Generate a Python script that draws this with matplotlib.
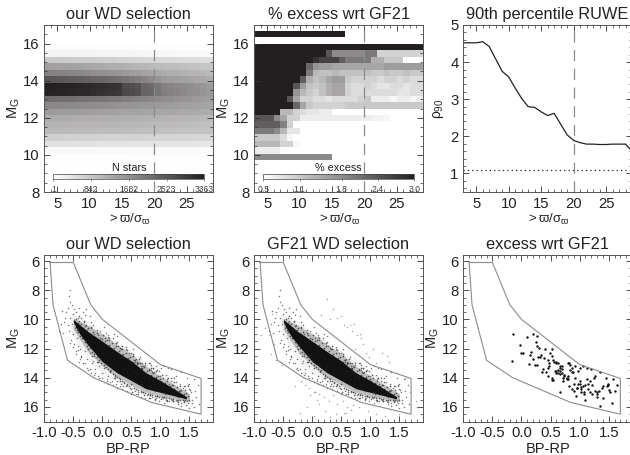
import numpy as np
import matplotlib
matplotlib.use('Agg')
import matplotlib.pyplot as plt
from matplotlib.colors import LinearSegmentedColormap, Normalize
from matplotlib.ticker import MultipleLocator

plt.rcParams['font.family'] = ['Liberation Sans', 'DejaVu Sans']
plt.rcParams['mathtext.fontset'] = 'custom'
plt.rcParams['mathtext.rm'] = 'Liberation Sans'
plt.rcParams['mathtext.it'] = 'Liberation Sans'
plt.rcParams['mathtext.fallback'] = 'stix'
plt.rcParams['axes.unicode_minus'] = False

# grid of the two maps
snr_edges = list(range(3, 30))
mg_edges = [16.7, 16.35, 16.0, 15.65, 15.3, 14.95, 14.6, 14.25, 13.9, 13.55, 13.2, 12.85, 12.5,
            12.15, 11.8, 11.45, 11.1, 10.75, 10.4, 10.05, 9.7, 9.35, 9.0, 8.65, 8.3, 8.0]

# N stars, rows top to bottom, one value per parallax S/N bin
n_stars = [
    [0] * 26,
    [0] * 26,
    [60, 60, 58, 58, 56, 55, 55, 52, 50, 50, 48, 45, 45, 42, 40, 40, 38, 36, 35, 35, 32, 32, 30, 30, 30, 30],
    [190, 185, 185, 180, 180, 175, 170, 170, 165, 160, 155, 150, 150, 145, 140, 135, 130, 125, 120, 115, 110, 105, 100, 100, 95, 90],
    [800, 800, 790, 780, 770, 760, 750, 740, 730, 710, 700, 680, 670, 660, 640, 630, 610, 600, 590, 570, 560, 550, 530, 520, 510, 500],
    [1450, 1440, 1430, 1410, 1390, 1370, 1350, 1320, 1290, 1260, 1230, 1200, 1170, 1140, 1110, 1090, 1060, 1030, 1000, 980, 960, 940, 920, 900, 880, 860],
    [1900, 1890, 1870, 1850, 1820, 1790, 1760, 1720, 1690, 1650, 1610, 1570, 1530, 1490, 1450, 1400, 1350, 1300, 1250, 1220, 1190, 1170, 1140, 1110, 1080, 1050],
    [2550, 2530, 2500, 2470, 2440, 2410, 2370, 2330, 2290, 2250, 2200, 2150, 2080, 2020, 1950, 1850, 1750, 1620, 1500, 1470, 1440, 1410, 1370, 1340, 1300, 1250],
    [3363, 3350, 3330, 3310, 3280, 3250, 3220, 3180, 3150, 3120, 3080, 3050, 2700, 2650, 2600, 2300, 2250, 2050, 1900, 1850, 1800, 1750, 1700, 1640, 1580, 1500],
    [3300, 3290, 3280, 3260, 3240, 3210, 3180, 3140, 3100, 3060, 3020, 2980, 2750, 2700, 2650, 2350, 2300, 2100, 1950, 1900, 1850, 1800, 1730, 1670, 1610, 1550],
    [2200, 2190, 2180, 2170, 2160, 2140, 2120, 2100, 2080, 2050, 2030, 2000, 1950, 1920, 1890, 1850, 1810, 1760, 1700, 1670, 1640, 1600, 1570, 1530, 1490, 1450],
    [1800, 1790, 1780, 1770, 1760, 1750, 1740, 1720, 1700, 1680, 1660, 1640, 1620, 1600, 1580, 1560, 1540, 1520, 1500, 1480, 1460, 1440, 1420, 1400, 1370, 1350],
    [1500, 1500, 1490, 1490, 1480, 1470, 1460, 1450, 1440, 1430, 1420, 1410, 1400, 1390, 1380, 1370, 1360, 1350, 1350, 1340, 1320, 1310, 1300, 1280, 1260, 1250],
    [1250, 1250, 1240, 1240, 1230, 1230, 1220, 1220, 1210, 1210, 1200, 1200, 1190, 1190, 1180, 1170, 1160, 1150, 1150, 1130, 1120, 1110, 1100, 1080, 1060, 1050],
    [1150, 1150, 1140, 1140, 1130, 1130, 1120, 1120, 1110, 1110, 1100, 1100, 1090, 1090, 1080, 1070, 1060, 1050, 1050, 1030, 1020, 1000, 990, 980, 960, 950],
    [1050, 1050, 1040, 1040, 1030, 1030, 1020, 1020, 1010, 1010, 1000, 1000, 990, 990, 980, 970, 960, 950, 950, 940, 930, 930, 920, 910, 900, 900],
    [700, 700, 700, 690, 690, 690, 680, 680, 680, 670, 670, 670, 660, 660, 660, 650, 650, 650, 650, 640, 630, 630, 620, 610, 600, 600],
    [450, 450, 450, 450, 440, 440, 440, 440, 430, 430, 430, 430, 430, 420, 420, 420, 420, 420, 420, 410, 410, 400, 400, 390, 380, 380],
    [100, 100, 100, 100, 100, 100, 100, 100, 95, 95, 95, 95, 95, 90, 90, 90, 90, 90, 90, 85, 85, 85, 80, 80, 80, 80],
    [40] * 26,
    [30] * 26,
    [20] * 26,
    [10] * 26,
    [5] * 26,
    [0] * 26,
]

# % excess on the same grid, 0 = blank
pct_excess = [
    [3.0] * 14 + [0] * 12,
    [0] * 26,
    [3.0] * 26,
    [3.0] * 11 + [2.4, 1.8, 1.8, 1.8, 1.8, 1.8, 2.0, 2.0, 1.0, 1.0, 1.0, 1.0, 1.0, 1.0, 1.0],
    [3.0] * 9 + [2.8, 2.6, 2.6, 2.6, 2.3, 2.0, 2.0, 2.0, 2.0, 1.4, 1.4, 1.1, 1.1, 1.1, 0.5, 0.5, 0.5],
    [3.0] * 8 + [2.2, 1.7, 1.6, 1.6, 1.5, 1.5, 1.5, 1.5, 1.5, 1.5, 1.5, 1.5, 1.6, 1.6, 1.6, 1.6, 1.6, 1.6],
    [3.0] * 8 + [2.0, 1.3, 1.2, 1.2, 1.3, 1.2, 1.2, 1.2, 1.2, 1.2, 1.1, 1.1, 1.2, 1.1, 1.1, 1.2, 1.1, 1.1],
    [3.0] * 7 + [2.3, 1.4, 1.2, 1.3, 1.5, 1.6, 1.6, 1.1, 1.0, 1.0, 1.0, 1.0, 0.9, 1.0, 1.0, 0.9, 1.0, 0.9, 0.9],
    [3.0] * 6 + [2.4, 1.6, 1.2, 1.1, 1.2, 1.4, 1.5, 1.5, 1.0, 0.9, 0.9, 1.0, 0.9, 0.8, 0.8, 0.9, 0.9, 0.8, 0.9, 0.9],
    [3.0] * 6 + [1.7, 1.3, 1.1, 1.0, 1.2, 1.4, 1.5, 1.5, 1.0, 0.9, 0.9, 0.9, 0.9, 0.9, 0.9, 0.9, 0.8, 0.8, 0.9, 0.9],
    [3.0] * 5 + [2.4, 1.5, 1.0, 1.0, 0.9, 0.9, 0.8, 0.9, 0.9, 0.9, 0.9, 1.0, 1.1, 0.7, 0.7, 0.7, 0.6, 0.7, 0.7, 0.6, 0.7],
    [3.0] * 6 + [2.2, 1.5, 1.1, 1.0, 1.0, 1.0, 1.0, 1.0, 1.1, 1.1, 1.1, 1.1, 1.1, 1.1, 1.1, 1.1, 1.1, 1.1, 1.1, 1.1],
    [3.0] * 4 + [1.3, 1.3, 1.0, 0.9, 0.8, 0.8, 0.7, 0.7, 0] + [0] * 13,
    [2.4, 2.4, 2.4, 1.8, 1.5, 1.0, 1.0, 0.7, 0.7, 0.7, 0.7, 0.7, 0.7, 0.7, 0.7, 0.7, 0.7, 0.7, 0.65, 0.65, 0.6, 0] + [0] * 4,
    [2.3, 2.3, 2.3, 2.3, 1.9, 1.0] + [0] * 20,
    [2.0, 2.0, 2.0, 1.8, 1.3, 0.8, 0.8] + [0] * 19,
    [1.1, 1.1, 1.1, 1.1, 0.9, 0.6] + [0] * 20,
    [1.3, 1.3, 1.3, 1.3, 1.0, 1.0, 0.6] + [0] * 19,
    [0.7, 0.7, 0.7, 0.7] + [0] * 22,
    [1.8] * 12 + [0] * 14,
    [0] * 26,
    [0] * 26,
    [0] * 26,
    [0] * 26,
    [0] * 26,
]

n_stars_ticks = [1, 842, 1682, 2523, 3363]
pct_ticks = [0.5, 1.1, 1.8, 2.4, 3.0]

# 90th percentile RUWE
snr = [3, 4, 5, 6, 7, 8, 9, 10, 11, 12, 13, 14, 15, 16, 17, 18, 19, 20, 21, 22, 23, 24, 25, 26, 27, 28, 29]
rho90 = [4.52, 4.52, 4.52, 4.55, 4.42, 4.08, 3.75, 3.6, 3.3, 3.02, 2.8, 2.78, 2.66, 2.56, 2.62, 2.33, 2.04,
         1.89, 1.83, 1.79, 1.79, 1.78, 1.78, 1.79, 1.79, 1.79, 1.6]
rho_ref = 1.09

# selection polygon in the CMD
poly_c = [-0.9, -0.5, -0.2, 0.0, 1.0, 1.7, 1.7, 0.85, -0.15, -0.6, -0.85, -0.9]
poly_m = [6.1, 6.1, 9.0, 10.0, 13.1, 14.05, 16.5, 15.7, 14.0, 12.8, 9.0, 6.1]

# dense WD sequence, read as envelopes since single stars cannot be told apart there
core_c = [-0.5, -0.38, -0.26, 0.0, 0.25, 0.5, 0.75, 1.0, 1.25, 1.45]
core_hi = [10.0, 10.4, 10.8, 11.5, 12.2, 12.85, 13.65, 14.2, 14.8, 15.3]
core_lo = [10.2, 11.05, 11.7, 12.9, 13.65, 14.2, 14.75, 15.0, 15.25, 15.45]
mid_c = [-0.5, -0.25, 0.0, 0.25, 0.5, 0.75, 1.0, 1.25, 1.5]
mid_hi = [9.9, 10.4, 11.0, 11.7, 12.4, 13.2, 13.9, 14.5, 15.1]
mid_lo = [10.7, 12.2, 13.2, 13.95, 14.5, 15.0, 15.3, 15.45, 15.6]
halo_c = [-0.55, -0.25, 0.0, 0.25, 0.5, 0.75, 1.0, 1.25, 1.5]
halo_hi = [9.6, 10.1, 10.9, 11.5, 12.2, 12.9, 13.6, 14.3, 15.0]
halo_lo = [10.8, 12.8, 13.7, 14.3, 14.8, 15.2, 15.5, 15.6, 15.7]

# excess stars, BP-RP and MG
excess_c = [-0.14, -0.16, -0.02, 0.03, 0.09, 0.0, 0.2, 0.26, 0.25, 0.27, 0.3, 0.41, 0.52, 0.49, 0.17, 0.14,
            0.13, 0.2, 0.23, 0.27, 0.34, 0.39, 0.37, 0.43, 0.46, 0.48, 0.48, 0.52, 0.55, 0.56, 0.6, 0.62, 0.6,
            0.63, 0.66, 0.66, 0.66, 0.7, 0.55, 0.59, 0.63, 0.66, 0.7, 0.73, 0.72, 0.78, 0.78, 0.84, 0.86, 0.8,
            0.84, 0.82, 0.87, 0.89, 0.92, 0.98, 1.01, 1.06, 1.13, 1.19, 1.35, 0.52, 0.66, 0.8, 0.82, 0.86, 0.92,
            0.96, 0.95, 0.98, 1.0, 1.03, 1.03, 1.06, 1.03, 1.07, 1.07, 1.15, 1.18, 1.24, 1.26, 1.29, 1.33, 1.38,
            1.41, 1.49, 1.58, 1.64, 1.47, 1.51, 1.45, 1.48, 1.18, 1.21, 1.26, 1.29, 1.35, 1.55, 1.52, 1.15, 1.09,
            1.01, 0.9, 0.8, 0.73, 0.69, 0.57, 0.53, 0.46, 0.6, 0.32, 1.12, 1.22, 0.94, 0.28, 1.4, 1.6, 0.45, 0.72,
            1.1, 1.3, 0.9, 0.35]
excess_m = [10.97, 12.82, 11.77, 12.3, 11.2, 12.3, 11.02, 11.16, 11.57, 11.84, 11.97, 12.0, 12.02, 12.29, 12.25,
            12.41, 13.07, 12.7, 13.1, 13.16, 12.41, 12.64, 13.38, 13.59, 12.75, 13.02, 13.2, 12.52, 12.75, 12.93,
            12.95, 13.0, 13.66, 13.45, 13.3, 13.56, 13.2, 13.2, 14.16, 13.55, 13.7, 13.77, 13.65, 13.86, 14.0,
            14.1, 14.0, 13.5, 13.6, 13.0, 13.1, 13.0, 13.36, 13.6, 13.2, 13.54, 13.3, 13.2, 13.3, 13.4, 13.6,
            14.15, 14.95, 14.1, 14.6, 14.8, 14.0, 14.72, 14.68, 14.45, 14.46, 14.64, 14.8, 14.56, 15.0, 15.12,
            15.0, 14.45, 14.22, 14.0, 13.9, 15.0, 14.9, 14.7, 14.6, 14.43, 14.1, 14.52, 14.6, 14.82, 14.05, 14.5,
            15.0, 15.13, 14.9, 15.13, 15.95, 15.7, 15.0, 14.8, 14.5, 14.2, 14.4, 13.9, 13.8, 13.4, 13.52, 14.0,
            13.3, 13.0, 12.6, 14.1, 14.5, 15.25, 12.6, 15.4, 14.9, 13.9, 14.2, 15.55, 15.3, 14.9, 13.6]

# fringe of the sequence, common to both selections
fringe_c = [-0.55, -0.58, -0.55, -0.52, -0.6, -0.48, -0.62, -0.5, -0.45, -0.55, -0.65, -0.42, -0.7, -0.72, -0.66,
            -0.6, -0.52, -0.47, -0.75, -0.68, -0.58, -0.5, -0.44, -0.36, -0.3, -0.4, -0.34, -0.28, -0.22, -0.2,
            -0.55, -0.5, -0.42, -0.46, -0.38, -0.3, -0.36, -0.26, -0.22, -0.15, -0.1, -0.18, -0.12, -0.05, 0.0,
            -0.32, -0.28, -0.2, -0.16, -0.1, -0.04, 0.02, 0.06, 0.1, 0.05, 0.12, 0.18, 0.15, 0.22, 0.28, 0.1, 0.16,
            0.2, 0.26, 0.32, 0.38, 0.08, 0.14, 0.24, 0.3, 0.36, 0.42, 0.48, 0.34, 0.4, 0.46, 0.52, 0.58, 0.64, 0.5,
            0.56, 0.62, 0.7, 0.76, 0.82, 0.68, 0.74, 0.8, 0.88, 0.94, 1.0, 0.86, 0.92, 1.05, 1.12, 1.2, 1.28, 1.1,
            1.18, 1.26, 1.34, 1.42, 1.5, 1.4, 1.48, 1.55, 1.62, 1.66, 1.58, 1.5, 1.44, 1.36, 1.3, 1.22, 1.14, 1.06,
            0.98, 0.9, 0.82, 0.74, 0.66, 0.58, 0.5, 0.42, 0.34, 0.26, 0.18, 0.1, 0.02, -0.06, -0.14, -0.22, -0.3,
            -0.38, -0.46, -0.54, -0.48, -0.42, -0.36, -0.4, -0.33, -0.27, -0.24, -0.19, -0.13, -0.08, 0.0, 0.08]
fringe_m = [8.0, 8.4, 8.8, 9.0, 9.2, 9.3, 9.5, 9.6, 9.5, 9.9, 9.9, 9.9, 9.4, 10.3, 10.2, 10.4, 10.3, 10.6, 10.8, 10.9,
            10.8, 11.0, 11.3, 9.9, 9.7, 9.2, 9.5, 9.3, 9.8, 10.2, 11.6, 11.9, 11.8, 12.2, 12.0, 12.2, 12.5, 12.7, 12.3,
            12.5, 12.9, 13.0, 13.4, 13.2, 13.7, 10.2, 10.4, 10.6, 10.4, 10.7, 10.8, 10.5, 10.9, 11.1, 11.3, 11.4, 11.3,
            13.5, 13.8, 14.0, 13.9, 14.2, 14.0, 14.2, 14.4, 14.3, 14.1, 14.3, 14.4, 14.6, 14.6, 14.5, 14.7, 12.0, 11.9,
            12.3, 12.5, 12.7, 12.6, 14.8, 14.9, 15.0, 15.0, 15.2, 15.1, 13.0, 13.1, 13.4, 13.3, 13.5, 13.9, 15.3, 15.4,
            15.4, 15.5, 15.5, 15.6, 13.8, 14.0, 14.3, 14.4, 14.6, 14.8, 15.6, 15.7, 15.5, 15.3, 15.8, 16.0, 16.1, 15.9,
            15.7, 15.8, 15.6, 15.6, 15.7, 15.6, 15.5, 15.4, 15.4, 15.3, 15.1, 15.1, 14.9, 14.8, 14.7, 14.5, 14.4, 14.3,
            14.0, 13.8, 13.4, 13.0, 12.7, 12.4, 11.4, 11.7, 12.1, 12.6, 12.9, 13.0, 13.3, 13.5, 13.7, 13.7, 13.9, 14.0,
            14.2]

# stars just off the solid part of the sequence
edge_c = [-0.46, -0.42, -0.4, -0.36, -0.33, -0.3, -0.27, -0.24, -0.2, -0.16, -0.12, -0.08, -0.04, 0.0, 0.04, 0.08,
          0.12, 0.16, 0.2, 0.24, 0.28, 0.32, 0.36, 0.4, 0.44, 0.48, 0.52, 0.56, 0.6, 0.64, 0.68, 0.72, 0.76, 0.8,
          0.84, 0.88, 0.92, 0.96, 1.0, 1.04, 1.08, 1.12, 1.16, 1.2, 1.24, 1.28, 1.32, 1.36, 1.4, 1.44, 1.48,
          -0.46, -0.42, -0.38, -0.34, -0.3, -0.26, -0.22, -0.18, -0.14, -0.1, -0.06, -0.02, 0.02, 0.06, 0.1, 0.14,
          0.18, 0.22, 0.26, 0.3, 0.34, 0.38, 0.42, 0.46, 0.5, 0.54, 0.58, 0.62, 0.66, 0.7, 0.74, 0.78, 0.82, 0.86,
          0.9, 0.94, 0.98, 1.02, 1.06, 1.1, 1.14, 1.18, 1.22, 1.26, 1.3, 1.34, 1.38, 1.42, 1.46, 1.5,
          -0.44, -0.35, -0.25, -0.17, -0.07, 0.03, 0.13, 0.21, 0.31, 0.41, 0.51, 0.61, 0.71, 0.81, 0.91, 1.01, 1.11,
          1.21, 1.31, 1.41, -0.41, -0.31, -0.19, -0.09, 0.01, 0.11, 0.23, 0.33, 0.43, 0.53, 0.63, 0.73, 0.83, 0.93,
          1.03, 1.13, 1.23, 1.33, 1.43]
edge_m = [9.95, 10.25, 10.1, 10.3, 10.6, 10.45, 10.75, 10.6, 11.0, 10.85, 11.2, 11.05, 11.3, 11.35, 11.5, 11.4, 11.75,
          11.6, 11.95, 11.85, 12.15, 12.05, 12.4, 12.3, 12.65, 12.55, 12.9, 12.8, 13.05, 13.0, 13.3, 13.25, 13.55,
          13.45, 13.8, 13.7, 13.95, 13.85, 14.1, 14.05, 14.35, 14.25, 14.55, 14.5, 14.75, 14.65, 14.9, 14.85, 15.1,
          15.05, 15.25, 10.5, 10.85, 11.15, 11.3, 11.55, 11.8, 11.95, 12.25, 12.35, 12.6, 12.75, 13.0, 13.1, 13.25,
          13.4, 13.55, 13.75, 13.85, 13.95, 14.1, 14.2, 14.35, 14.4, 14.55, 14.45, 14.7, 14.8, 14.85, 14.9, 15.0,
          15.05, 15.1, 15.15, 15.2, 15.25, 15.25, 15.3, 15.3, 15.35, 15.4, 15.4, 15.45, 15.45, 15.5, 15.5, 15.55,
          15.55, 15.5, 15.6, 15.55, 10.7, 11.3, 12.0, 12.5, 12.9, 13.35, 13.6, 14.0, 14.25, 14.6, 14.95, 15.1, 15.2,
          15.4, 15.45, 15.45, 15.6, 15.6, 15.65, 15.65, 9.8, 10.1, 10.5, 10.95, 11.1, 11.25, 11.65, 11.8, 12.1, 12.4,
          12.7, 13.0, 13.3, 13.55, 13.8, 14.05, 14.3, 14.6, 14.85]

# only in the GF21 panel, mostly outside the polygon
gf21_c = [-0.82, -0.75, -0.7, -0.66, -0.88, -0.72, -0.62, -0.55, -0.52, 0.25, 0.35, 0.15, 0.3, 0.42, 0.5, 0.55, 0.6,
          0.65, 0.72, 0.76, 0.82, 0.88, 0.68, 0.92, 0.98, 0.74, 0.84, 1.05, 1.2, 1.28, 1.32, 1.1, 1.45, 1.6, 1.68,
          1.78, 1.8, -0.3, -0.2, -0.12, -0.05, 0.02, 0.08, 0.12, 0.2, 0.28, 0.05, -0.04, 0.35, 0.42, 0.52, 0.6, 0.7,
          0.8, 0.66, 0.55, -0.28, -0.22, 0.02, 0.12, 0.4, 0.58, 0.96, 1.1, 1.25, 1.5, 1.62, 0.22, 0.3, -0.1]
gf21_m = [10.6, 11.1, 9.6, 11.7, 11.1, 12.4, 12.8, 12.9, 13.1, 8.6, 9.3, 9.7, 10.0, 9.9, 9.8, 10.4, 10.5, 10.4, 10.3,
          11.1, 11.0, 11.7, 10.8, 12.3, 12.6, 12.0, 11.3, 12.0, 12.3, 12.5, 12.9, 13.0, 13.7, 14.0, 15.0, 15.6, 16.0,
          14.6, 14.2, 14.5, 14.7, 15.0, 15.5, 15.8, 15.3, 15.6, 15.0, 15.2, 15.2, 15.8, 15.6, 16.0, 15.9, 16.0, 16.2,
          16.4, 13.4, 16.4, 16.6, 15.1, 16.5, 16.4, 16.3, 16.5, 16.6, 16.5, 16.4, 16.3, 16.7, 16.0]

W, H = 630, 455
fig = plt.figure(figsize=(W / 100, H / 100), dpi=100)
frame_col = '#555555'
line_col = '#8c8c8c'
text_col = '#222222'
gray = LinearSegmentedColormap.from_list('wd', ['#ffffff', '#231f20'])


def add_panel(left, right, top, bottom, title):
    ax = fig.add_axes([left / W, 1 - bottom / H, (right - left) / W, (bottom - top) / H])
    ax.set_title(title, fontsize=11.8, pad=4, color=text_col)
    ax.tick_params(which='both', direction='in', top=True, right=True, color='#333333', labelsize=10.7,
                   labelcolor=text_col, pad=3.5)
    ax.tick_params(which='major', length=4.5, width=0.6)
    ax.tick_params(which='minor', length=2, width=0.5)
    for s in ax.spines.values():
        s.set_color(frame_col)
        s.set_linewidth(0.7)
    return ax


def snr_axis(ax):
    ax.set_xlim(3, 29)
    ax.xaxis.set_major_locator(MultipleLocator(5))
    ax.xaxis.set_minor_locator(MultipleLocator(1))
    ax.set_xlabel(r'$>\varpi/\sigma_{\varpi}$', fontsize=9.5, color=text_col)
    ax.xaxis.set_label_coords(0.5, -0.12, transform=ax.transAxes)


def map_panel(left, right, values, title, norm, cb_label, cb_ticks, cb_fmt):
    ax = add_panel(left, right, 25, 192, title)
    ax.pcolormesh(snr_edges, mg_edges, np.array(values), cmap=gray, norm=norm, rasterized=True)
    ax.set_ylim(8, 17)
    ax.yaxis.set_major_locator(MultipleLocator(2))
    ax.yaxis.set_minor_locator(MultipleLocator(0.5))
    ax.set_ylabel(r'$\mathrm{M_G}$', fontsize=10.5, color=text_col)
    ax.yaxis.set_label_coords(-0.13, 0.5, transform=ax.transAxes)
    snr_axis(ax)
    ax.axvline(20, color=line_col, lw=0.9, dashes=(9, 6))

    cax = fig.add_axes([(left + 9) / W, 1 - 179 / H, 151 / W, 5.5 / H])
    sm = plt.cm.ScalarMappable(norm=norm, cmap=gray)
    cb = fig.colorbar(sm, cax=cax, orientation='horizontal')
    cb.set_ticks(cb_ticks)
    cb.set_ticklabels([cb_fmt.format(t) for t in cb_ticks])
    cax.tick_params(labelsize=6.2, length=1.5, width=0.4, pad=2.5, colors='#444444')
    cb.outline.set_linewidth(0.5)
    cb.outline.set_edgecolor('#444444')
    cax.set_title(cb_label, fontsize=7.8, pad=1.5, color=text_col)
    return ax


def cmd_panel(left, right, title):
    ax = add_panel(left, right, 254.5, 421.5, title)
    ax.plot(poly_c, poly_m, color=line_col, lw=0.8, zorder=4)
    ax.set_xlim(-1, 1.9)
    ax.set_ylim(17, 5.55)
    ax.xaxis.set_major_locator(MultipleLocator(0.5))
    ax.xaxis.set_minor_locator(MultipleLocator(0.1))
    ax.yaxis.set_major_locator(MultipleLocator(2))
    ax.yaxis.set_minor_locator(MultipleLocator(0.5))
    ax.set_xlabel('BP-RP', fontsize=10.5, color=text_col)
    ax.xaxis.set_label_coords(0.5, -0.12, transform=ax.transAxes)
    ax.set_ylabel(r'$\mathrm{M_G}$', fontsize=10.5, color=text_col)
    ax.yaxis.set_label_coords(-0.13, 0.5, transform=ax.transAxes)
    return ax


def draw_sequence(ax):
    ax.fill_between(halo_c, halo_hi, halo_lo, color='#000000', alpha=0.05, lw=0, zorder=1)
    ax.fill_between(mid_c, mid_hi, mid_lo, color='#000000', alpha=0.22, lw=0, zorder=1)
    ax.fill_between(core_c, core_hi, core_lo, color='#111111', lw=0, zorder=2)
    for c, m in [(fringe_c, fringe_m), (excess_c, excess_m)]:
        ax.scatter(c, m, s=1.2, c='#222222', alpha=0.6, lw=0, zorder=3)
    ax.scatter(edge_c, edge_m, s=1.4, c='#111111', alpha=0.65, lw=0, zorder=3)


map_panel(44.3, 212.7, n_stars, 'our WD selection', Normalize(1, 3363), 'N stars', n_stars_ticks, '{:d}')
map_panel(254.3, 422.7, pct_excess, '% excess wrt GF21', Normalize(0.5, 3.0), '% excess', pct_ticks, '{:.1f}')

ax = add_panel(463.3, 632, 25, 192, '90th percentile RUWE')
ax.plot(snr, rho90, color='#222222', lw=0.9)
ax.axhline(rho_ref, color='#222222', lw=0.9, ls=(0, (1, 2.5)))
ax.axvline(20, color=line_col, lw=0.9, dashes=(9, 6))
ax.set_ylim(0.5, 5)
ax.yaxis.set_major_locator(MultipleLocator(1))
ax.yaxis.set_minor_locator(MultipleLocator(0.2))
ax.set_ylabel(r'$\rho_{90}$', fontsize=10, color=text_col)
ax.yaxis.set_label_coords(-0.1, 0.5, transform=ax.transAxes)
snr_axis(ax)

ax = cmd_panel(44.3, 212.7, 'our WD selection')
draw_sequence(ax)

ax = cmd_panel(254.3, 422.7, 'GF21 WD selection')
draw_sequence(ax)
ax.scatter(gf21_c, gf21_m, s=1.2, c='#555555', alpha=0.5, lw=0, zorder=3)

ax = cmd_panel(463.3, 632, 'excess wrt GF21')
ax.scatter(excess_c, excess_m, s=3, c='#111111', lw=0, zorder=3)

fig.savefig('out.png', dpi=100)
